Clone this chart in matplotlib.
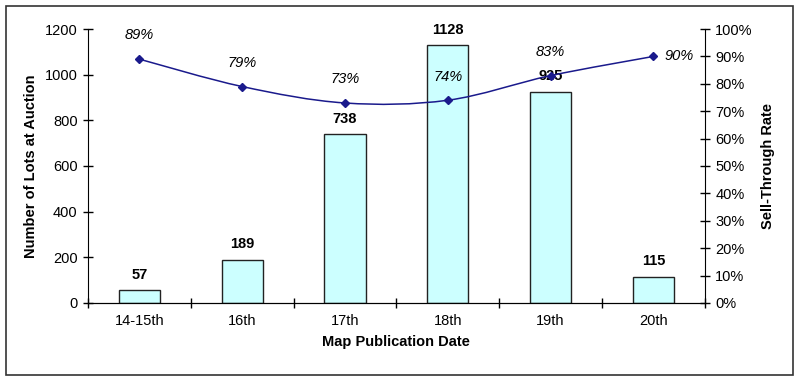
import numpy as np
import matplotlib
matplotlib.use("Agg")
import matplotlib.pyplot as plt
from matplotlib.path import Path
from matplotlib.patches import PathPatch, Rectangle

plt.rcParams['font.family'] = ['Liberation Sans', 'DejaVu Sans']

# chart data
periods = ['14-15th', '16th', '17th', '18th', '19th', '20th']
lots = [57, 189, 738, 1128, 925, 115]
sell_through = [89, 79, 73, 74, 83, 90]  # percent

bar_color = '#CCFFFF'
line_color = '#1A1A8C'


def smooth_path(xs, ys):
    # Excel-style smoothed line: cubic bezier through every point
    pts = np.column_stack([xs, ys]).astype(float)
    verts = [pts[0]]
    codes = [Path.MOVETO]
    n = len(pts)
    for i in range(n - 1):
        p0 = pts[i - 1] if i > 0 else pts[i]
        p1 = pts[i]
        p2 = pts[i + 1]
        p3 = pts[i + 2] if i + 2 < n else pts[i + 1]
        c1 = p1 + (p2 - p0) / 6.0
        c2 = p2 - (p3 - p1) / 6.0
        verts += [c1, c2, p2]
        codes += [Path.CURVE4] * 3
    return Path(verts, codes)


fig = plt.figure(figsize=(8, 3.82), dpi=100)
ax = fig.add_axes([0.11, 0.207, 0.771, 0.717])

fs = 10.5
x = np.arange(len(periods))
bars = ax.bar(x, lots, width=0.4, color=bar_color, edgecolor='#222222', linewidth=1, zorder=2)
for xi, v in zip(x, lots):
    ax.annotate(str(v), (xi, v), xytext=(0, 6), textcoords='offset points',
                ha='center', va='bottom', fontsize=fs, fontweight='bold')

ax.set_xlim(-0.5, len(periods) - 0.5)
ax.set_ylim(0, 1200)
ax.set_yticks(range(0, 1201, 200))
ax.set_xticks(np.arange(-0.5, len(periods), 1.0))
ax.set_xticklabels([])
ax.set_xticks(x, minor=True)
ax.set_xticklabels(periods, minor=True)
ax.tick_params(axis='x', which='minor', length=0, pad=8, labelsize=fs)
ax.tick_params(axis='x', which='major', direction='inout', length=7, width=1)
ax.tick_params(axis='y', direction='inout', length=7, width=1, labelsize=fs, pad=4)
ax.spines['top'].set_visible(False)
ax.spines['right'].set_visible(False)
ax.set_xlabel('Map Publication Date', fontsize=fs, fontweight='bold', labelpad=5)
ax.set_ylabel('Number of Lots at Auction', fontsize=fs, fontweight='bold', labelpad=5)

ax2 = ax.twinx()
ax2.set_ylim(0, 100)
ax2.set_yticks(range(0, 101, 10))
ax2.set_yticklabels([f'{t}%' for t in range(0, 101, 10)])
ax2.tick_params(axis='y', direction='inout', length=7, width=1, labelsize=fs, pad=4)
ax2.spines['top'].set_visible(False)
ax2.spines['left'].set_visible(False)
ax2.set_ylabel('Sell-Through Rate', fontsize=fs, fontweight='bold', labelpad=6)

ax2.add_patch(PathPatch(smooth_path(x, sell_through), facecolor='none',
                        edgecolor=line_color, linewidth=1.1, zorder=3))
ax2.plot(x, sell_through, linestyle='none', marker='D', markersize=4,
         color=line_color, zorder=4)
for i, (xi, v) in enumerate(zip(x, sell_through)):
    if i == len(x) - 1:
        ax2.annotate(f'{v}%', (xi, v), xytext=(8, 0), textcoords='offset points',
                     ha='left', va='center', fontsize=fs, fontstyle='italic')
    else:
        ax2.annotate(f'{v}%', (xi, v), xytext=(0, 12), textcoords='offset points',
                     ha='center', va='bottom', fontsize=fs, fontstyle='italic')

# outer chart border
fig.patches.append(Rectangle((6 / 800, 7 / 382), 787 / 800, 369 / 382,
                             transform=fig.transFigure, fill=False,
                             edgecolor='#333333', linewidth=1.2))

fig.savefig('out.png', dpi=100)
